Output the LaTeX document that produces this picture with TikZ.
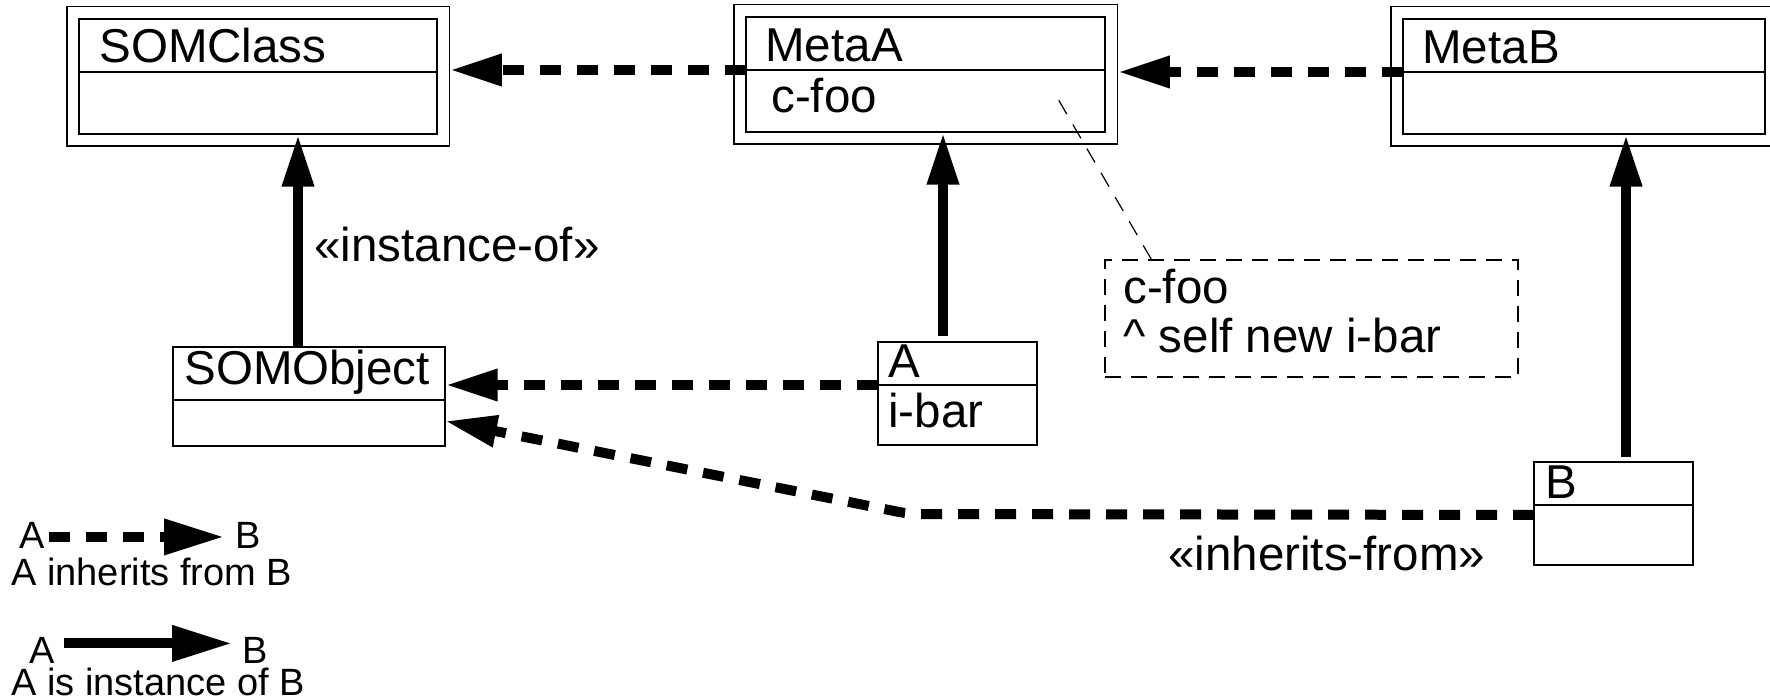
\documentclass[tikz,border=0pt]{standalone}
\usepackage{fontspec}
\setmainfont{Liberation Sans}
\usepackage{tikz}
\usetikzlibrary{arrows.meta,positioning,fit}

\begin{document}
\begin{tikzpicture}[x=0.5pt,y=-0.5pt,>=Latex]
\tikzset{classbox/.style={draw,line width=0.7pt,inner sep=0pt}, metaframe/.style={draw,line width=0.7pt,inner sep=5.75pt}, notebox/.style={draw,line width=0.7pt,dash pattern=on 8pt off 5pt,inner sep=0pt}, divider/.style={line width=0.7pt}, classname/.style={anchor=base west,inner sep=0pt,font=\fontsize{23.75pt}{28pt}\selectfont}, legendtext/.style={anchor=base west,inner sep=0pt,font=\fontsize{19pt}{22pt}\selectfont}, inherits/.style={-{Triangle[length=26pt,width=15pt]},line width=5pt,dash pattern=on 10.5pt off 8pt}, instof/.style={-{Triangle[length=26pt,width=15pt]},line width=5pt}, notelink/.style={line width=0.6pt,dash pattern=on 8pt off 6pt}}
\useasboundingbox (0,0) rectangle (1770,699);
% metaclasses
\node[classbox,fit={(79,19) (437,134)}] (somclass) {};
\node[metaframe,fit=(somclass)] (somclass-frame) {};
\coordinate (somclass-div) at (79,72);
\draw[divider] (somclass-div) -- (somclass-div -| somclass.east);
\node[classname] (somclass-name) at (99,63) {SOMClass};
\node[classbox,fit={(746,17) (1105,132)}] (metaa) {};
\node[metaframe,fit=(metaa)] (metaa-frame) {};
\coordinate (metaa-div) at (746,70);
\draw[divider] (metaa-div) -- (metaa-div -| metaa.east);
\node[classname] (metaa-name) at (765,62) {MetaA};
\node[classname] (metaa-attr) at (771,113) {c-foo};
\node[classbox,fit={(1403,19) (1765,134)}] (metab) {};
\node[metaframe,fit=(metab)] (metab-frame) {};
\coordinate (metab-div) at (1403,72);
\draw[divider] (metab-div) -- (metab-div -| metab.east);
\node[classname] (metab-name) at (1422,64) {MetaB};
% classes
\node[classbox,fit={(173,347) (445,446)}] (somobject) {};
\coordinate (somobject-div) at (173,400);
\draw[divider] (somobject-div) -- (somobject-div -| somobject.east);
\node[classname] (somobject-name) at (184,385) {SOMObject};
\node[classbox,fit={(878,342) (1037,445)}] (a) {};
\coordinate (a-div) at (878,385);
\draw[divider] (a-div) -- (a-div -| a.east);
\node[classname] (a-name) at (888,378) {A};
\node[classname] (a-attr) at (888,428) {i-bar};
\node[classbox,fit={(1534,462) (1693,565)}] (b) {};
\coordinate (b-div) at (1534,505);
\draw[divider] (b-div) -- (b-div -| b.east);
\node[classname] (b-name) at (1545,498) {B};
% note
\node[notebox,fit={(1105,260) (1518,377)}] (note) {};
\node[classname] (note-l1) at (1123,304) {c-foo};
\node[classname] (note-l2) at (1123,353) {\textasciicircum\ self new i-bar};
\coordinate (cfoo-ref) at (1058,99);
\draw[notelink] ([xshift=23.5pt]note.north west) -- (cfoo-ref);
% inheritance
\draw[inherits] (metaa-div) -- (metaa-div -| somclass-frame.east);
\draw[inherits] (metab-div) -- (metab-div -| metaa-frame.east);
\draw[inherits] (a-div) -- (a-div -| somobject.east);
\coordinate (b-out) at (1534,515);
\coordinate (bend) at (909,514);
\coordinate (somobject-in) at (445,421);
\draw[inherits,rounded corners=5pt] (b-out) -- (bend) -- (somobject-in);
% instance-of
\draw[instof] (somobject.north -| 298,0) -- (somclass.south -| 298,0);
\draw[instof,shorten <=2.5pt] (a.north -| 943,0) -- (metaa.south -| 943,0);
\draw[instof,shorten <=2pt] (b.north -| 1626,0) -- (metab.south -| 1626,0);
\node[classname] (instof-label) at (314,262) {«instance-of»};
\node[classname] (inherits-label) at (1168,570) {«inherits-from»};
% legend
\node[legendtext] (la1) at (19,548) {A};
\node[legendtext] (lb1) at (235,548) {B};
\node[legendtext] (lg1) at (11,585) {A inherits from B};
\draw[inherits,-{Triangle[length=30pt,width=17pt]}] ([xshift=2pt,yshift=-1pt]la1.east) -- ([xshift=-5.5pt,yshift=-1pt]lb1.west);
\node[legendtext] (la2) at (29,663) {A};
\node[legendtext] (lb2) at (242,663) {B};
\node[legendtext] (lg2) at (11,695) {A is instance of B};
\draw[instof,-{Triangle[length=30pt,width=17pt]}] ([xshift=4.3pt,yshift=3.25pt]la2.east) -- ([xshift=-5pt,yshift=3.25pt]lb2.west);
\end{tikzpicture}
\end{document}
